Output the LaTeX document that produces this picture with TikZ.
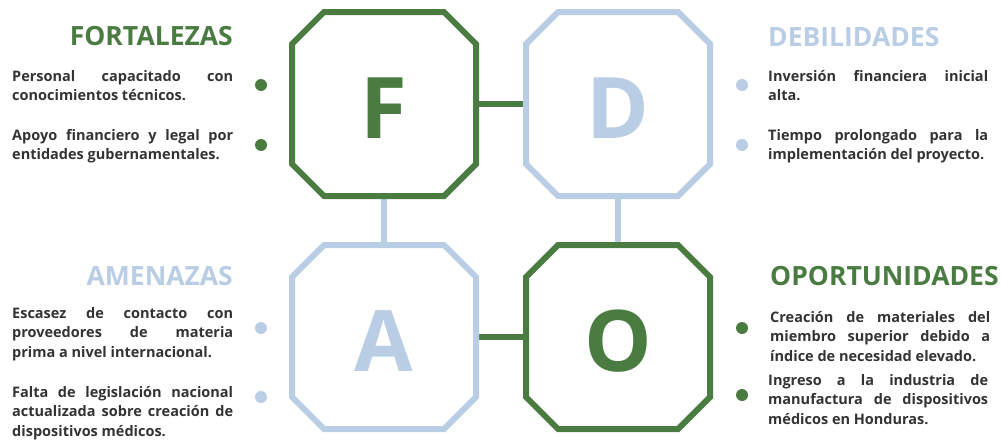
\documentclass[tikz,border=0pt]{standalone}
\usepackage{fontspec}
\setmainfont{Open Sans}
\usetikzlibrary{positioning, backgrounds}

\definecolor{fodagreen}{RGB}{74,124,66}
\definecolor{fodablue}{RGB}{185,205,228}
\definecolor{fodatext}{RGB}{51,51,51}

\begin{document}
\begin{tikzpicture}[
    x=1pt, y=-1pt,
    octo/.style={rectangle, minimum width=184pt, minimum height=184pt,
        inner sep=0pt, outer sep=0pt, text=#1, font=\fontsize{85}{85}\bfseries,
        text height=69pt, text depth=0pt},
    outline/.style={draw=#1, line width=6pt, line join=miter},
    link/.style={draw=#1, line width=6pt},
    title/.style={text=#1, font=\fontsize{26.5}{30}\bfseries, inner sep=0pt},
    dot/.style={circle, fill=#1, minimum size=12pt, inner sep=0pt},
    item/.style={text=fodatext, font=\fontsize{14.5}{19.5}\bfseries,
        text width=221pt, align=justify, inner sep=0pt, anchor=north west}
]
\useasboundingbox (0,0) rectangle (1001,442);

% Octagons
\node[octo=fodagreen] (F) at (384,104) {F};
\node[octo=fodablue]  (D) at (618,104) {D};
\node[octo=fodablue]  (A) at (384,337) {A};
\node[octo=fodagreen] (O) at (618,337) {O};

\foreach \n/\c in {F/fodagreen, D/fodablue, A/fodablue, O/fodagreen}
  \draw[outline=\c] ([xshift=32pt]\n.north west) -- ([xshift=-32pt]\n.north east)
    -- ([yshift=-32pt]\n.north east) -- ([yshift=32pt]\n.south east)
    -- ([xshift=-32pt]\n.south east) -- ([xshift=32pt]\n.south west)
    -- ([yshift=32pt]\n.south west) -- ([yshift=-32pt]\n.north west) -- cycle;

% Links (behind the octagons)
\begin{scope}[on background layer]
\draw[link=fodagreen] (F) -- (D);
\draw[link=fodagreen] (A) -- (O);
\draw[link=fodablue] (F) -- (A);
\draw[link=fodablue] (D) -- (O);
\end{scope}

% Titles
\node[title=fodagreen, anchor=base east] (fort) at (233,45) {FORTALEZAS};
\node[title=fodablue, anchor=base west] (debi) at (768,46) {DEBILIDADES};
\node[title=fodablue, anchor=base east] (amen) at (233,285) {AMENAZAS};
\node[title=fodagreen, anchor=base west] (opor) at (770,285) {OPORTUNIDADES};

% Bullets
\node[dot=fodagreen] (fb1) at (261,85) {};
\node[dot=fodagreen] (fb2) at (261,145) {};
\node[dot=fodablue] (db1) at (742,85) {};
\node[dot=fodablue] (db2) at (742,145) {};
\node[dot=fodablue] (ab1) at (261,328) {};
\node[dot=fodablue] (ab2) at (261,397) {};
\node[dot=fodagreen] (ob1) at (742,328) {};
\node[dot=fodagreen] (ob2) at (742,395) {};

% Items
\node[item] (f1) at (12,70) {Personal capacitado con\linebreak conocimientos técnicos.};
\node[item] (f2) at (12,129) {Apoyo financiero y legal por\linebreak entidades gubernamentales.};
\node[item, text width=220pt] (d1) at (768,70) {Inversión financiera inicial\linebreak alta.};
\node[item, text width=220pt] (d2) at (768,129) {Tiempo prolongado para la\linebreak implementación del proyecto.};
\node[item] (a1) at (12,307) {Escasez de contacto con\linebreak proveedores de materia\linebreak prima a nivel internacional.};
\node[item] (a2) at (12,386) {Falta de legislación nacional\linebreak actualizada sobre creación de\linebreak dispositivos médicos.};
\node[item, text width=220pt] (o1) at (770,311) {Creación de materiales del\linebreak miembro superior debido a\linebreak índice de necesidad elevado.};
\node[item, text width=220pt] (o2) at (768,374) {Ingreso a la industria de\linebreak manufactura de dispositivos\linebreak médicos en Honduras.};

\end{tikzpicture}
\end{document}
